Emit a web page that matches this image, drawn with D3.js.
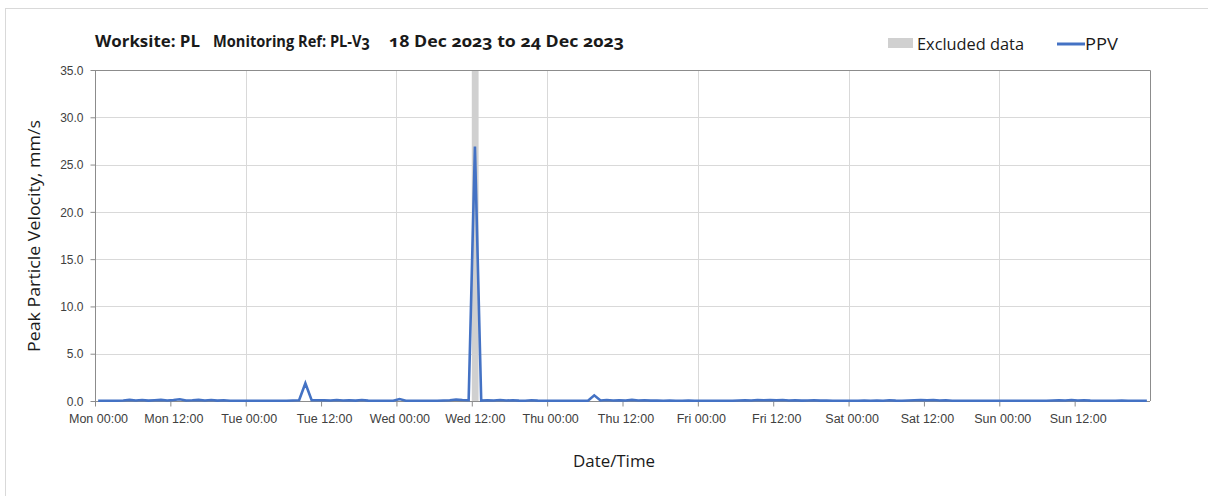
<!DOCTYPE html>
<html><head><meta charset="utf-8">
<script src="https://cdn.jsdelivr.net/npm/d3@7"></script>
<style>
body{margin:0;background:#fff;}
svg{display:block;font-family:"Open Sans","Noto Sans",sans-serif;font-variant-numeric:oldstyle-nums;}
</style></head><body>
<svg id="c" width="1208" height="496"></svg>
<script>
// hourly PPV readings (mm/s), each at hh:30, starting Mon 18 Dec 2023 00:30
const monValues = [0.02,0.02,0.03,0.02,0.05,0.12,0.05,0.1,0.04,0.08,0.12,0.06,0.1,0.18,0.06,0.08,0.12,0.05,0.1,0.04,0.08,0.02,0.02,0.02];
const tueValues = [0.02,0.02,0.02,0.02,0.02,0.02,0.03,0.06,0.08,1.87,0.08,0.08,0.08,0.06,0.1,0.06,0.08,0.04,0.1,0.04,0.02,0.02,0.02,0.02];
const wedValues = [0.2,0.03,0.02,0.02,0.02,0.02,0.02,0.05,0.08,0.15,0.1,0.08,26.9,0.05,0.08,0.06,0.1,0.05,0.08,0.04,0.02,0.08,0.04,0.02];
const thuValues = [0.03,0.02,0.02,0.02,0.02,0.02,0.03,0.6,0.05,0.1,0.06,0.08,0.05,0.12,0.06,0.08,0.04,0.06,0.02,0.04,0.02,0.02,0.04,0.02];
const friValues = [0.02,0.02,0.02,0.02,0.02,0.02,0.05,0.08,0.06,0.1,0.08,0.1,0.08,0.1,0.06,0.08,0.04,0.06,0.08,0.04,0.06,0.02,0.02,0.02];
const satValues = [0.02,0.02,0.05,0.02,0.06,0.02,0.08,0.04,0.02,0.06,0.08,0.1,0.08,0.1,0.06,0.08,0.02,0.02,0.02,0.02,0.02,0.02,0.02,0.02];
const sunValues = [0.02,0.02,0.02,0.02,0.02,0.02,0.02,0.02,0.05,0.08,0.05,0.1,0.06,0.08,0.04,0.02,0.02,0.02,0.02,0.06,0.02,0.02,0.02,0.02];
const startTime = "2023-12-18T00:30:00";
const excludedRange = ["2023-12-20T12:00:00","2023-12-20T13:05:00"];
const xDomain = ["2023-12-18T00:00:00","2023-12-25T00:00:00"];
const yTicks = [0,5,10,15,20,25,30,35];
const dayNames = ["Sun","Mon","Tue","Wed","Thu","Fri","Sat"];
const titleParts = ["Worksite: PL","Monitoring Ref: PL-V3","18 Dec 2023 to 24 Dec 2023"];
const legendLabels = ["Excluded data","PPV"];
const yTitle = "Peak Particle Velocity, mm/s";
const xTitle = "Date/Time";

const values = [].concat(monValues,tueValues,wedValues,thuValues,friValues,satValues,sunValues);
const t0 = new Date(startTime);
const data = values.map((v,i)=>({t:new Date(t0.getTime()+i*3600e3), v}));

const svg = d3.select("#c");
const L=95,R=1150,T=70,B=401;
const x = d3.scaleTime().domain(xDomain.map(d=>new Date(d))).range([L,R]);
const y = d3.scaleLinear().domain([0,35]).range([B,T]);

// outer frame
svg.append("rect").attr("x",5.5).attr("y",8.5).attr("width",1210).attr("height",500)
  .attr("fill","none").attr("stroke","#d9d9d9");

// gridlines
const g = svg.append("g");
g.selectAll(".hg").data(yTicks.slice(1,-1)).join("line")
  .attr("x1",L).attr("x2",R).attr("y1",d=>Math.round(y(d))+0.5).attr("y2",d=>Math.round(y(d))+0.5)
  .attr("stroke","#d9d9d9").attr("stroke-width",1);
const dayTicks = d3.timeDay.range(new Date(xDomain[0]), new Date(xDomain[1]));
g.selectAll(".vg").data(dayTicks.slice(1)).join("line")
  .attr("y1",T).attr("y2",B).attr("x1",d=>Math.round(x(d))+0.5).attr("x2",d=>Math.round(x(d))+0.5)
  .attr("stroke","#d9d9d9").attr("stroke-width",1);

// excluded band
svg.append("rect").attr("x",x(new Date(excludedRange[0]))).attr("y",T)
  .attr("width",x(new Date(excludedRange[1]))-x(new Date(excludedRange[0]))).attr("height",B-T)
  .attr("fill","#d0d0d0");

// plot frame (top and right)
svg.append("path").attr("d",`M${L},${T+0.5}H${R+0.5}V${B}`).attr("fill","none").attr("stroke","#8c8c8c");

// y axis
const yAx = svg.append("g").attr("transform",`translate(${L+0.5},0)`)
  .call(d3.axisLeft(y).tickValues(yTicks).tickFormat(d3.format(".1f")).tickSize(5).tickPadding(7));
yAx.select(".domain").attr("stroke","#8c8c8c").attr("d",`M0,${T}V${B}`);
yAx.selectAll(".tick line").attr("stroke","#8c8c8c");
yAx.selectAll("text").attr("fill","#404040").style("font-size","12px").attr("dy","0.35em");

// x axis
const xTicks = d3.timeHour.every(12).range(new Date(xDomain[0]), new Date(xDomain[1]));
const xAx = svg.append("g").attr("transform",`translate(0,${B+0.5})`)
  .call(d3.axisBottom(x).tickValues(xTicks).tickSize(5).tickPadding(8)
    .tickFormat(d=>dayNames[d.getDay()]+" "+d3.timeFormat("%H:%M")(d)));
xAx.select(".domain").attr("stroke","#8c8c8c").attr("d",`M${L},0H${R}`);
xAx.selectAll(".tick line").attr("stroke","#8c8c8c");
xAx.selectAll("text").attr("fill","#404040").style("font-size","12.5px").attr("dx","3");

// line
svg.append("path").datum(data)
  .attr("d",d3.line().x(d=>x(d.t)).y(d=>y(d.v)))
  .attr("fill","none").attr("stroke","#4472c4").attr("stroke-width",2.6).attr("stroke-linejoin","miter");

// title
const titleX=[95,213,389];
const titleW=[105,157,235];
svg.selectAll(".tt").data(titleParts).join("text")
  .attr("x",(d,i)=>titleX[i]).attr("y",47).text(d=>d)
  .attr("textLength",(d,i)=>titleW[i]).attr("lengthAdjust","spacingAndGlyphs")
  .attr("fill","#1a1a1a").style("font-size","16px").style("font-weight","bold");

// legend
svg.append("rect").attr("x",888).attr("y",38).attr("width",25).attr("height",10).attr("fill","#d0d0d0");
svg.append("text").attr("x",917).attr("y",50).text(legendLabels[0]).attr("fill","#1a1a1a").style("font-size","16px")
  .attr("textLength",107).attr("lengthAdjust","spacingAndGlyphs");
svg.append("line").attr("x1",1057).attr("x2",1085).attr("y1",44).attr("y2",44).attr("stroke","#4472c4").attr("stroke-width",3);
svg.append("text").attr("x",1085).attr("y",50).text(legendLabels[1]).attr("fill","#1a1a1a").style("font-size","16px")
  .attr("textLength",33).attr("lengthAdjust","spacingAndGlyphs");

// axis titles
svg.append("text").attr("transform","translate(40,236) rotate(-90)").attr("text-anchor","middle")
  .text(yTitle).attr("fill","#1a1a1a").style("font-size","16px")
  .attr("textLength",232).attr("lengthAdjust","spacingAndGlyphs");
svg.append("text").attr("x",614).attr("y",467).attr("text-anchor","middle")
  .text(xTitle).attr("fill","#1a1a1a").style("font-size","16px")
  .attr("textLength",82).attr("lengthAdjust","spacingAndGlyphs");
</script></body></html>
